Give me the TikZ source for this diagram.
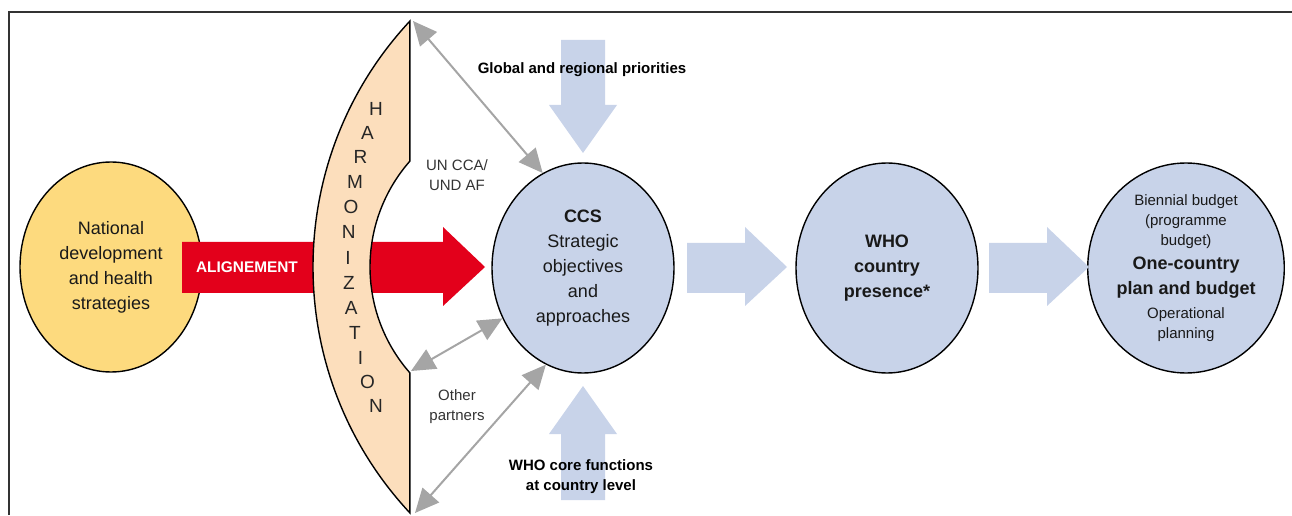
\documentclass[tikz,border=0pt]{standalone}
\usepackage{fontspec}
\setmainfont{Liberation Sans}
\usetikzlibrary{shapes.geometric,arrows.meta}

\definecolor{natyellow}{HTML}{FDDA7E}
\definecolor{harmpeach}{HTML}{FCDEBC}
\definecolor{alignred}{HTML}{E3001B}
\definecolor{ccsblue}{HTML}{C8D3E9}
\definecolor{linkgray}{HTML}{A5A5A5}

\newcommand\bubblesize{\fontsize{9}{12.5}\selectfont}
\newcommand\notesize{\fontsize{7.5}{10}\selectfont}
\newcommand\harmsize{\fontsize{9.5}{11}\selectfont}

\tikzstyle{every node}=[inner sep=0pt, align=center]
\tikzstyle{bubble}=[ellipse, draw=black, line width=0.7pt, fill=ccsblue, minimum width=91pt, minimum height=105pt, font=\bubblesize, text=black!90]
\tikzstyle{national}=[bubble, fill=natyellow]
\tikzstyle{letter}=[font=\harmsize, text=black!85]
\tikzstyle{note}=[font=\notesize, text=black!80]
\tikzstyle{heading}=[font=\notesize\bfseries, text=black]
\tikzstyle{link}=[{Triangle[length=12pt,width=11pt]}-{Triangle[length=12pt,width=11pt]}, draw=linkgray, line width=1pt]
\tikzstyle{frame}=[line width=1pt, draw=black!80]

\begin{document}
\begin{tikzpicture}[x=0.5pt, y=0.5pt]
    \useasboundingbox (0,0) rectangle (1292,515);
    \draw[frame] (9,0) -- (9,503) -- (1292,503);

    \node[national] (national) at (111,248) {National\\development\\and health\\strategies};

    \fill[alignred] (182,222) -- (443,222) -- (443,209) -- (485,248) -- (443,288) -- (443,273) -- (182,273) -- cycle;
    \node[font=\fontsize{7.7}{9}\selectfont\bfseries, text=white] (alignement) at (247,248) {ALIGNEMENT};

    \coordinate (outer) at (673.5,248);
    \coordinate (inner) at (530.5,248);
    \filldraw[fill=harmpeach, draw=black, line width=0.7pt]
        ([shift={(137:360.5)}]outer) arc[start angle=137, end angle=223, radius=360.5]
        -- ([shift={(221.3:160.5)}]inner) arc[start angle=221.3, end angle=138.7, radius=160.5]
        -- cycle;
    \coordinate (letters) at (758,257.5);
    \foreach \l [count=\i] in {H,A,R,M,O,N,I,Z,A,T,I,O,N}
        \node[letter] (harm\i) at ([shift={({180+(\i-7)*3.54}:410)}]letters) {\l};

    \node[bubble] (ccs) at (583,247) {\textbf{CCS}\\Strategic\\objectives\\and\\approaches};
    \node[bubble, font=\bubblesize\bfseries] (who) at (887,247) {WHO\\country\\presence*};
    \node[bubble, font=\notesize] (plan) at (1186,247) {Biennial budget\\(programme\\budget)\\[2pt]\textbf{\bubblesize One-country}\\[2.5pt]\textbf{\bubblesize plan and budget}\\[2pt]Operational\\planning};

    \coordinate (htop) at (413,494);
    \coordinate (hmid) at (411,144);
    \coordinate (hbot) at (415,2);
    \draw[link] (htop) -- (ccs.113);
    \draw[link] (hmid) -- (ccs.212);
    \draw[link] (hbot) -- (ccs.249);

    \fill[ccsblue] (561,475) -- (605,475) -- (605,410) -- (617,410) -- (583,362) -- (549,410) -- (561,410) -- cycle;
    \fill[ccsblue] (561,15) -- (605,15) -- (605,81) -- (617,81) -- (583,129) -- (549,81) -- (561,81) -- cycle;
    \fill[ccsblue] (687,222) -- (745,222) -- (745,209) -- (787,248) -- (745,288) -- (745,272) -- (687,272) -- cycle;
    \fill[ccsblue] (989,222) -- (1047,222) -- (1047,209) -- (1089,248) -- (1047,288) -- (1047,272) -- (989,272) -- cycle;

    \node[note] (uncca) at (457,340) {UN CCA/\\UND AF};
    \node[note] (partners) at (457,108) {Other\\partners};
    \node[heading] (global) at (582,445) {Global and regional priorities};
    \node[heading] (core) at (581,38) {WHO core functions\\at country level};
\end{tikzpicture}
\end{document}
